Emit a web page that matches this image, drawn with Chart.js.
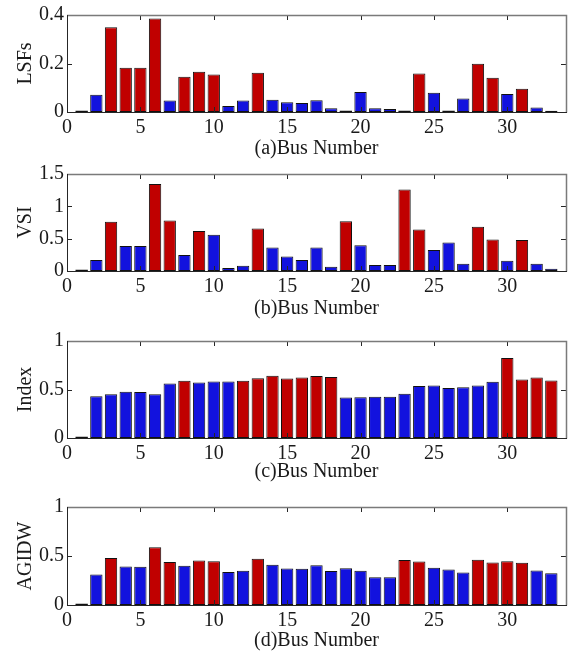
<!DOCTYPE html>
<html><head><meta charset="utf-8">
<script src="https://cdn.jsdelivr.net/npm/chart.js@4/dist/chart.umd.min.js"></script>
<style>
html,body{margin:0;padding:0;background:#fff;}
body{width:571px;height:657px;position:relative;overflow:hidden;}
canvas{position:absolute;left:0;}
</style></head><body>
<canvas id="ca" width="571" height="161" style="top:0px"></canvas>
<canvas id="cb" width="571" height="162" style="top:159px"></canvas>
<canvas id="cc" width="571" height="158" style="top:326px"></canvas>
<canvas id="cd" width="571" height="161" style="top:492px"></canvas>
<script>
// ---- data ----
const busNumbers = [1,2,3,4,5,6,7,8,9,10,11,12,13,14,15,16,17,18,19,20,21,22,23,24,25,26,27,28,29,30,31,32,33];
const xTickValues = [0,5,10,15,20,25,30];

const lsfs = [0,0.071,0.349,0.182,0.182,0.386,0.047,0.145,0.166,0.155,0.025,0.047,0.162,0.051,0.040,0.037,0.048,0.015,0,0.082,0.015,0.012,0,0.159,0.079,0,0.056,0.199,0.141,0.074,0.096,0.019,0.005];
const lsfsHighlighted = [3,4,5,6,8,9,10,13,24,28,29,31];

const vsi = [0,0.17,0.76,0.385,0.385,1.346,0.78,0.247,0.617,0.56,0.046,0.082,0.658,0.365,0.226,0.17,0.365,0.067,0.77,0.40,0.092,0.092,1.26,0.642,0.324,0.442,0.113,0.683,0.488,0.16,0.478,0.113,0.036];
const vsiHighlighted = [3,6,7,9,13,19,23,24,28,29,31];

const indexValues = [0,0.431,0.451,0.478,0.475,0.451,0.562,0.589,0.572,0.582,0.582,0.589,0.616,0.643,0.613,0.623,0.64,0.63,0.418,0.421,0.424,0.424,0.455,0.535,0.542,0.515,0.522,0.542,0.58,0.825,0.603,0.623,0.593];
const indexHighlighted = [8,12,13,14,15,16,17,18,30,31,32,33];

const agidw = [0,0.31,0.48,0.393,0.39,0.59,0.44,0.40,0.453,0.446,0.336,0.349,0.473,0.41,0.372,0.369,0.406,0.346,0.376,0.349,0.282,0.282,0.46,0.443,0.379,0.362,0.332,0.463,0.433,0.446,0.43,0.352,0.325];
const agidwHighlighted = [3,6,7,9,10,13,23,24,28,29,30,31];

// ---- style ----
const RED = '#C00000';
const BLUE = '#1212DE';
const FONT = "'Liberation Serif','Times New Roman',serif";
const FS = 20;
const TXT = '#1a1a1a';

const framePlugin = {
  id: 'frame',
  afterDatasetsDraw(chart) {
    const {ctx, chartArea: {left, right, top, bottom}, scales: {x, y}} = chart;
    ctx.save();
    ctx.lineWidth = 1;
    ctx.strokeStyle = '#262626';
    x.ticks.forEach(t => {
      const px = Math.round(x.getPixelForValue(t.value)) + 0.5;
      ctx.beginPath();
      ctx.moveTo(px, bottom); ctx.lineTo(px, bottom - 5);
      ctx.moveTo(px, top); ctx.lineTo(px, top + 5);
      ctx.stroke();
    });
    y.ticks.forEach(t => {
      const py = Math.round(y.getPixelForValue(t.value)) + 0.5;
      ctx.beginPath();
      ctx.moveTo(left, py); ctx.lineTo(left + 5, py);
      ctx.moveTo(right, py); ctx.lineTo(right - 5, py);
      ctx.stroke();
    });
    // zero-height bars show as a dark line on the baseline
    const meta = chart.getDatasetMeta(0);
    ctx.strokeStyle = '#111111';
    ctx.lineWidth = 1.5;
    meta.data.forEach((bar, i) => {
      if (chart.data.datasets[0].data[i].y === 0) {
        const w = bar.width;
        ctx.beginPath();
        ctx.moveTo(bar.x - w / 2, Math.round(bottom) - 0.5);
        ctx.lineTo(bar.x + w / 2, Math.round(bottom) - 0.5);
        ctx.stroke();
      }
    });
    // top & right (lighter)
    ctx.strokeStyle = '#7a7a7a';
    ctx.lineWidth = 1.5;
    ctx.beginPath();
    ctx.moveTo(Math.round(left), Math.round(top) + 0.5);
    ctx.lineTo(Math.round(right) + 0.5, Math.round(top) + 0.5);
    ctx.lineTo(Math.round(right) + 0.5, Math.round(bottom) + 0.5);
    ctx.stroke();
    // left & bottom
    ctx.strokeStyle = '#262626';
    ctx.lineWidth = 1;
    ctx.beginPath();
    ctx.moveTo(Math.round(left) + 0.5, Math.round(top));
    ctx.lineTo(Math.round(left) + 0.5, Math.round(bottom) + 0.5);
    ctx.lineTo(Math.round(right) + 1, Math.round(bottom) + 0.5);
    ctx.stroke();
    ctx.restore();
  }
};

function makeChart(id, values, highlighted, yLabel, xLabel, yMax, yStep, padTop, xAxisH) {
  new Chart(document.getElementById(id), {
    type: 'bar',
    data: {
      datasets: [{
        data: busNumbers.map((b, i) => ({x: b, y: values[i]})),
        backgroundColor: busNumbers.map(b => highlighted.includes(b) ? RED : BLUE),
        borderColor: '#111111',
        borderWidth: 1,
        borderSkipped: false,
        barPercentage: 0.84,
        categoryPercentage: 1
      }]
    },
    options: {
      responsive: false,
      animation: false,
      devicePixelRatio: 1,
      layout: {padding: {top: padTop, right: 5, left: 0, bottom: 0}},
      plugins: {legend: {display: false}, tooltip: {enabled: false}},
      scales: {
        x: {
          type: 'linear', min: 0, max: 34, offset: false,
          grid: {display: false, drawTicks: false},
          border: {display: false},
          afterBuildTicks: s => { s.ticks = xTickValues.map(v => ({value: v})); },
          afterFit: s => { s.height = xAxisH; },
          ticks: {autoSkip: false, maxRotation: 0, padding: 4, color: TXT, font: {family: FONT, size: FS}},
          title: {display: true, text: xLabel, color: TXT, font: {family: FONT, size: FS}, padding: 0}
        },
        y: {
          min: 0, max: yMax,
          grid: {display: false, drawTicks: false},
          border: {display: false},
          afterFit: s => { s.width = 67; },
          ticks: {stepSize: yStep, padding: 3, color: TXT, font: {family: FONT, size: FS},
                  callback: v => String(Number(Number(v).toFixed(2)))},
          title: {display: true, text: yLabel, color: TXT, font: {family: FONT, size: FS}, padding: {top: 14, bottom: 0}}
        }
      }
    },
    plugins: [framePlugin]
  });
}

makeChart('ca', lsfs, lsfsHighlighted, 'LSFs', '(a)Bus Number', 0.4, 0.2, 14, 49);
makeChart('cb', vsi, vsiHighlighted, 'VSI', '(b)Bus Number', 1.5, 0.5, 14, 50);
makeChart('cc', indexValues, indexHighlighted, 'Index', '(c)Bus Number', 1, 0.5, 14, 46);
makeChart('cd', agidw, agidwHighlighted, 'AGIDW', '(d)Bus Number', 1, 0.5, 14, 48);
</script>
</body></html>
